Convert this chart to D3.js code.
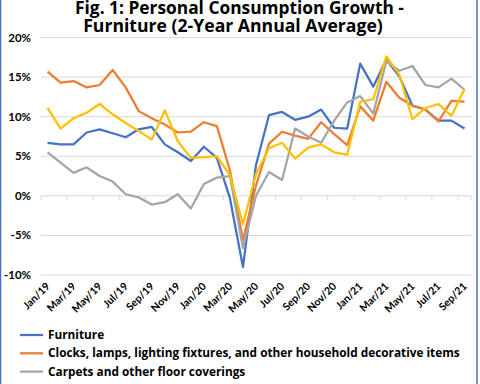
<!DOCTYPE html>
<html>
<head>
<meta charset="utf-8">
<script src="https://cdn.jsdelivr.net/npm/d3@7"></script>
<style>
  html, body { margin: 0; padding: 0; background: #fff; }
  svg { display: block; }
</style>
</head>
<body>
<svg id="chart"></svg>
<script>
const months = ["Jan/19","Feb/19","Mar/19","Apr/19","May/19","Jun/19","Jul/19","Aug/19","Sep/19","Oct/19","Nov/19","Dec/19",
  "Jan/20","Feb/20","Mar/20","Apr/20","May/20","Jun/20","Jul/20","Aug/20","Sep/20","Oct/20","Nov/20","Dec/20",
  "Jan/21","Feb/21","Mar/21","Apr/21","May/21","Jun/21","Jul/21","Aug/21","Sep/21"];

const furniture = [6.7,6.5,6.5,8.0,8.4,7.9,7.4,8.4,8.7,6.5,5.5,4.4,
  6.2,4.8,-0.3,-9.0,3.9,10.2,10.6,9.6,10.0,10.9,8.6,8.5,
  16.7,13.8,17.2,15.1,11.4,10.9,9.5,9.5,8.5];
const clocks = [15.7,14.3,14.5,13.7,14.0,15.9,13.7,10.7,9.8,9.0,8.0,8.1,
  9.3,8.8,3.2,-5.6,1.3,6.6,8.1,7.6,7.2,9.3,7.8,6.4,
  11.3,9.5,14.4,12.4,11.4,10.9,9.4,12.0,11.9];
const carpets = [5.5,4.2,2.9,3.6,2.5,1.8,0.2,-0.2,-1.1,-0.8,0.2,-1.6,
  1.5,2.3,2.5,-6.6,0.0,3.0,2.0,8.5,7.5,6.7,9.5,11.8,
  12.6,10.4,17.0,15.8,16.4,14.0,13.7,14.8,13.4];
const fourth = [11.1,8.5,9.8,10.5,11.6,10.3,9.2,8.2,7.1,10.8,6.9,4.8,
  4.9,5.0,2.6,-3.6,2.8,6.0,6.7,4.7,6.1,6.5,5.5,5.2,
  11.9,12.2,17.6,15.3,9.7,11.1,11.6,10.1,13.5];

const yTicks = [-10,-5,0,5,10,15,20];
const titleLines = ["Fig. 1: Personal Consumption Growth -", "Furniture (2-Year Annual Average)"];
const legendNames = ["Furniture","Clocks, lamps, lighting fixtures, and other household decorative items","Carpets and other floor coverings"];
const colors = ["#4472c4","#ed7d31","#a5a5a5","#ffc000"];

const width = 480, height = 384;
const font = "Lato, 'Open Sans', sans-serif";
const wideFont = "'Open Sans', Lato, sans-serif";
const svg = d3.select("#chart").attr("width", width).attr("height", height);

// scale a text's font size so it spans the wanted width
function fitWidth(sel, target) {
  const fs = +sel.attr("font-size");
  const w = sel.node().getComputedTextLength();
  sel.attr("font-size", fs * target / w);
  return fs * target / w;
}

// outer border
svg.append("rect").attr("x", 0.5).attr("y", -5).attr("width", 476.5).attr("height", height + 10)
  .attr("fill", "none").attr("stroke", "#4472c4").attr("stroke-width", 1.5);

// title
const t1 = svg.append("text").attr("x", 239.5).attr("y", 14).attr("text-anchor", "middle")
  .attr("font-family", wideFont).attr("font-weight", "bold").attr("font-size", 16).text(titleLines[0]);
fitWidth(t1, 329);
const t2 = svg.append("text").attr("x", 233).attr("y", 32).attr("text-anchor", "middle")
  .attr("font-family", wideFont).attr("font-weight", "bold").attr("font-size", 16).text(titleLines[1]);
fitWidth(t2, 300);

const x = d3.scaleBand().domain(months).range([41, 471]).padding(0);
const y = d3.scaleLinear().domain([-10, 20]).range([275, 37.5]);

// gridlines
svg.append("g").selectAll("line").data(yTicks).join("line")
  .attr("x1", 41).attr("x2", 471)
  .attr("y1", d => y(d)).attr("y2", d => y(d))
  .attr("stroke", "#d9d9d9").attr("stroke-width", 1);

// y labels
svg.append("g").selectAll("text").data(yTicks).join("text")
  .attr("x", 31).attr("y", d => y(d) + 4)
  .attr("text-anchor", "end")
  .attr("font-family", font).attr("font-weight", "bold").attr("font-size", 11.5)
  .text(d => d + "%");

// category tick marks on the zero line
const tickMonths = months.filter((m, i) => i % 2 === 0);
svg.append("g").selectAll("line").data(tickMonths.concat(["__end"])).join("line")
  .attr("x1", d => d === "__end" ? 471 : x(d)).attr("x2", d => d === "__end" ? 471 : x(d))
  .attr("y1", y(0)).attr("y2", y(0) + 4)
  .attr("stroke", "#d9d9d9");

// x labels
svg.append("g").selectAll("text").data(tickMonths).join("text")
  .attr("text-anchor", "end")
  .attr("transform", d => `translate(${x(d) + x.bandwidth() / 2 + 3},${287}) rotate(-45)`)
  .attr("font-family", font).attr("font-weight", "bold").attr("font-size", 10.5)
  .text(d => d);

// lines
const line = d3.line()
  .x((d, i) => x(months[i]) + x.bandwidth() / 2)
  .y(d => y(d));
[furniture, clocks, carpets, fourth].forEach((s, k) => {
  svg.append("path").datum(s)
    .attr("fill", "none").attr("stroke", colors[k]).attr("stroke-width", 2.25)
    .attr("stroke-linejoin", "round")
    .attr("d", line);
});

// legend
const legend = svg.append("g").selectAll("g").data(legendNames).join("g")
  .attr("transform", (d, i) => `translate(20,${335 + i * 18.3})`);
legend.append("line").attr("x1", 0).attr("x2", 23).attr("y1", 0).attr("y2", 0)
  .attr("stroke", (d, i) => colors[i]).attr("stroke-width", 2.25);
const legendText = legend.append("text").attr("x", 28).attr("y", 4)
  .attr("font-family", wideFont).attr("font-weight", "bold").attr("font-size", 12)
  .text(d => d);
const legendSize = fitWidth(d3.select(legendText.nodes()[1]), 412);
legendText.attr("font-size", legendSize);
</script>
</body>
</html>
